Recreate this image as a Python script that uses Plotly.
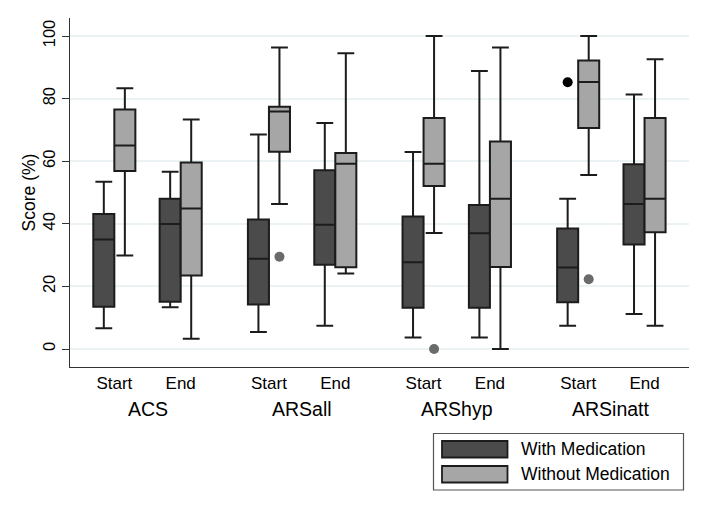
import plotly.graph_objects as go

# ---------------- data ----------------
groups = ["ACS", "ARSall", "ARShyp", "ARSinatt"]
phases = ["Start", "End"]
series = ["With Medication", "Without Medication"]

# order: ACS Start, ACS End, ARSall Start, ARSall End, ARShyp Start, ARShyp End, ARSinatt Start, ARSinatt End
with_lo = [6.6, 13.3, 5.4, 7.4, 3.7, 3.7, 7.4, 11.2]
with_q1 = [13.5, 15.1, 14.2, 26.9, 13.2, 13.2, 14.9, 33.4]
with_med = [35.0, 39.9, 28.8, 39.7, 27.7, 37.0, 26.0, 46.3]
with_q3 = [43.1, 48.0, 41.4, 57.1, 42.3, 46.0, 38.5, 59.0]
with_hi = [53.4, 56.6, 68.5, 72.2, 62.9, 88.8, 48.0, 81.3]

without_lo = [29.9, 3.3, 46.3, 24.1, 37.1, 0.0, 55.6, 7.4]
without_q1 = [56.9, 23.5, 63.0, 26.1, 52.1, 26.2, 70.6, 37.3]
without_med = [65.0, 44.9, 75.9, 59.2, 59.2, 48.0, 85.3, 48.0]
without_q3 = [76.5, 59.6, 77.4, 62.6, 73.8, 66.3, 92.2, 73.8]
without_hi = [83.3, 73.3, 96.3, 94.5, 100.0, 96.3, 100.0, 92.6]

# outliers: (group, phase, value)
with_out_group = ["ARSinatt"]
with_out_phase = ["Start"]
with_out_val = [85.2]
without_out_group = ["ARSall", "ARShyp", "ARSinatt"]
without_out_phase = ["Start", "Start", "Start"]
without_out_val = [29.5, 0.0, 22.3]

y_ticks = [0, 20, 40, 60, 80, 100]

# ---------------- layout constants ----------------
GROUP_STEP = 2.33
BOXGAP = 0.366
FONT = "Liberation Sans, Arial, Helvetica, sans-serif"
C_WITH = "#4b4b4b"
C_WITHOUT = "#a6a6a6"
C_LINE = "#1c1c1c"

W, H = 708, 515
ML, MR, MT, MB = 70, 19, 18, 148
PW, PH = W - ML - MR, H - MT - MB


def pos(g, p):
    return groups.index(g) * GROUP_STEP + phases.index(p)


xs = [pos(g, p) for g in groups for p in phases]
half = (1 - BOXGAP) / 4  # offset of each grouped box centre

fig = go.Figure()
for name, fill, lo, q1, med, q3, hi in [
    (series[0], C_WITH, with_lo, with_q1, with_med, with_q3, with_hi),
    (series[1], C_WITHOUT, without_lo, without_q1, without_med, without_q3, without_hi),
]:
    fig.add_trace(go.Box(
        name=name, x=xs, q1=q1, median=med, q3=q3, lowerfence=lo, upperfence=hi,
        fillcolor=fill, line=dict(color=C_LINE, width=2), whiskerwidth=0.8,
        boxpoints=False, showlegend=False, hoverinfo="skip",
    ))

fig.add_trace(go.Scatter(
    x=[pos(g, p) - half for g, p in zip(with_out_group, with_out_phase)],
    y=with_out_val, mode="markers", marker=dict(color="#000000", size=10),
    showlegend=False, hoverinfo="skip"))
fig.add_trace(go.Scatter(
    x=[pos(g, p) + half for g, p in zip(without_out_group, without_out_phase)],
    y=without_out_val, mode="markers", marker=dict(color="#6a6a6a", size=10),
    showlegend=False, hoverinfo="skip"))


def px_x(px):
    return (px - ML) / PW


def px_y(py):
    return (H - MB - py) / PH


annotations = []
for g in groups:
    annotations.append(dict(
        x=(pos(g, phases[0]) + pos(g, phases[-1])) / 2, xref="x",
        y=px_y(409), yref="paper", yanchor="middle", xanchor="center",
        text=g, showarrow=False, font=dict(family=FONT, size=19.5, color="#000")))

# legend (drawn manually to match wide swatches)
shapes = [dict(type="rect", xref="paper", yref="paper",
               x0=px_x(433.5), x1=px_x(683.5), y0=px_y(433.5), y1=px_y(490),
               line=dict(color="#555555", width=1.2), fillcolor="white")]
sw_rows = [(441, 457.5), (466, 482.5)]
for (y0, y1), name, fill in zip(sw_rows, series, [C_WITH, C_WITHOUT]):
    shapes.append(dict(type="rect", xref="paper", yref="paper",
                       x0=px_x(442), x1=px_x(507.5), y0=px_y(y1), y1=px_y(y0),
                       line=dict(color=C_LINE, width=1.8), fillcolor=fill))
    annotations.append(dict(x=px_x(519), xref="paper", y=px_y((y0 + y1) / 2), yref="paper",
                            xanchor="left", yanchor="middle", text=name, showarrow=False,
                            font=dict(family=FONT, size=17.5, color="#000")))

fig.update_layout(
    width=W, height=H,
    margin=dict(l=ML, r=MR, t=MT, b=MB, autoexpand=False),
    paper_bgcolor="white", plot_bgcolor="white",
    boxmode="group", boxgap=BOXGAP, boxgroupgap=0,
    showlegend=False,
    font=dict(family=FONT, color="#000"),
    xaxis=dict(range=[-0.668, 8.66], tickvals=xs,
               ticktext=[p for g in groups for p in phases],
               ticks="", showgrid=False, zeroline=False,
               showline=True, linecolor="#333333", linewidth=1.3,
               tickfont=dict(size=17, family=FONT, color="#000")),
    yaxis=dict(range=[-5.75, 105.75], tickvals=y_ticks, tickangle=-90,
               ticks="outside", ticklen=7, tickcolor="#333333", tickwidth=1.3,
               showgrid=True, gridcolor="#eaf2f3", gridwidth=1.5, zeroline=False,
               showline=True, linecolor="#333333", linewidth=1.3,
               ticklabelstandoff=0,
               tickfont=dict(size=16.5, family=FONT, color="#000"),
               title=dict(text="Score (%)", font=dict(size=17.5, family=FONT, color="#000"),
                          standoff=0)),
    shapes=shapes, annotations=annotations,
)

fig.write_html("out.html", config={"displayModeBar": False},
               post_script="document.body.style.margin='0';")
